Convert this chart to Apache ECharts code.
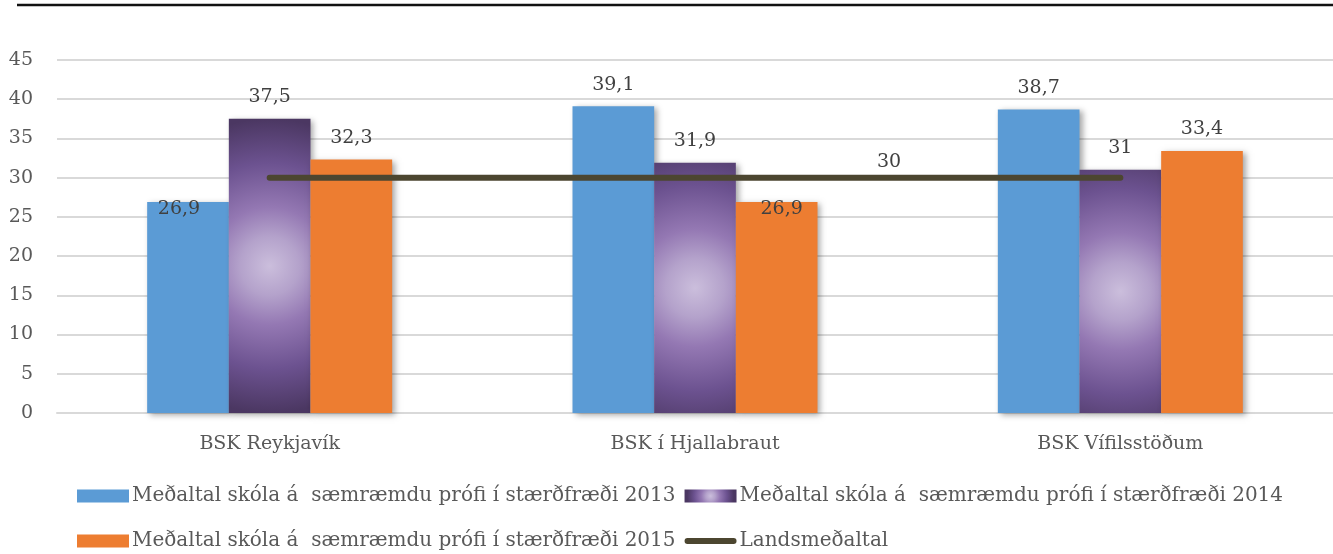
<!DOCTYPE html>
<html>
<head>
<meta charset="utf-8">
<script src="https://cdn.jsdelivr.net/npm/echarts@6/dist/echarts.min.js"></script>
<style>
  html, body { margin: 0; padding: 0; background: #fff; }
  #chart { width: 1333px; height: 554px; }
</style>
</head>
<body>
<div id="chart"></div>
<script>
const categories = ['BSK Reykjavík', 'BSK í Hjallabraut', 'BSK Vífilsstöðum'];
const names = [
  'Meðaltal skóla á  sæmræmdu prófi í stærðfræði 2013',
  'Meðaltal skóla á  sæmræmdu prófi í stærðfræði 2014',
  'Meðaltal skóla á  sæmræmdu prófi í stærðfræði 2015',
  'Landsmeðaltal'
];
const avg2013 = [26.9, 39.1, 38.7];
const avg2014 = [37.5, 31.9, 31];
const avg2015 = [32.3, 26.9, 33.4];
const national = [30, 30, 30];
const yTicks = { min: 0, max: 45, step: 5 };

const serif = 'DejaVu Serif';
const textColor = '#595959';
const labelColor = '#404040';
const lineColor = '#4c4630';
const comma = v => String(v).replace('.', ',');

const shadow = {
  shadowColor: 'rgba(0,0,0,0.35)',
  shadowBlur: 6,
  shadowOffsetX: 3,
  shadowOffsetY: 2
};

const purple = {
  type: 'radial', x: 0.5, y: 0.5, r: 1.8,
  colorStops: [
    { offset: 0, color: '#cbbedc' },
    { offset: 0.2, color: '#b4a2cb' },
    { offset: 0.4, color: '#9478b3' },
    { offset: 0.7, color: '#6c5290' },
    { offset: 1, color: '#4b3762' }
  ]
};

const barLabel = {
  show: true,
  position: 'top',
  distance: 12,
  fontFamily: serif,
  fontSize: 19,
  color: labelColor,
  formatter: p => comma(p.value)
};

// the 26,9 labels sit inside the bar top in the original
function withInside(arr, offsets) {
  return arr.map((v, i) => offsets[i] == null ? v : {
    value: v,
    label: { position: 'insideTop', distance: 0, offset: [offsets[i], -2] }
  });
}

// thick rounded line for the legend, padded to the 13px icon height
const capsule = 'path://M0,0 M0,13 M3,3.5 L49,3.5 A3,3 0 0 1 49,9.5 L3,9.5 A3,3 0 0 1 3,3.5 Z';

const legendText = { fontFamily: serif, fontSize: 20, color: textColor, lineHeight: 24, padding: [0, 0, 0, -2] };

const chart = echarts.init(document.getElementById('chart'));

const option = {
  animation: false,
  backgroundColor: '#fff',
  graphic: [{
    type: 'line',
    shape: { x1: 17, y1: 5, x2: 1333, y2: 5 },
    style: { stroke: '#111', lineWidth: 2.5 }
  }],
  grid: { left: 57, right: 0, top: 60, bottom: 141 },
  legend: [
    {
      data: [{ name: names[0], icon: 'rect' }, { name: names[1], icon: 'rect' }],
      left: 77, top: 484, padding: 0,
      itemWidth: 52, itemHeight: 13, itemGap: 9,
      textStyle: legendText
    },
    {
      data: [
        { name: names[2], icon: 'rect' },
        { name: names[3], icon: capsule, itemStyle: { color: lineColor, borderWidth: 0 } }
      ],
      left: 77, top: 529, padding: 0,
      itemWidth: 52, itemHeight: 13, itemGap: 9,
      textStyle: legendText
    }
  ],
  xAxis: {
    type: 'category',
    data: categories,
    axisTick: { show: false },
    axisLine: { lineStyle: { color: '#d9d9d9', width: 2 } },
    axisLabel: { fontFamily: serif, fontSize: 19, color: textColor, margin: 22 }
  },
  yAxis: {
    type: 'value',
    min: yTicks.min, max: yTicks.max, interval: yTicks.step,
    axisLine: { show: false },
    axisTick: { show: false },
    axisLabel: { fontFamily: serif, fontSize: 19, color: textColor, margin: 24 },
    splitLine: { lineStyle: { color: '#d9d9d9', width: 2 } }
  },
  series: [
    {
      name: names[0], type: 'bar', barGap: 0, barCategoryGap: '42.4%',
      data: withInside(avg2013, [-9, null, null]),
      itemStyle: Object.assign({ color: '#5b9bd5' }, shadow),
      label: barLabel
    },
    {
      name: names[1], type: 'bar',
      data: avg2014,
      itemStyle: Object.assign({ color: purple }, shadow),
      label: barLabel
    },
    {
      name: names[2], type: 'bar',
      data: withInside(avg2015, [null, 5, null]),
      itemStyle: Object.assign({ color: '#ed7d31' }, shadow),
      label: barLabel
    },
    {
      name: names[3], type: 'line',
      data: national.map((v, i) => i === 1 ? { value: v, label: { show: true } } : v),
      symbol: 'circle',
      symbolSize: 1,
      showSymbol: true,
      z: 5,
      itemStyle: { color: lineColor },
      lineStyle: { color: lineColor, width: 6, cap: 'round' },
      label: {
        show: false, position: 'top', distance: 6, offset: [194, 0],
        fontFamily: serif, fontSize: 19, color: labelColor,
        formatter: p => comma(p.value)
      }
    }
  ]
};

chart.setOption(option);
</script>
</body>
</html>
